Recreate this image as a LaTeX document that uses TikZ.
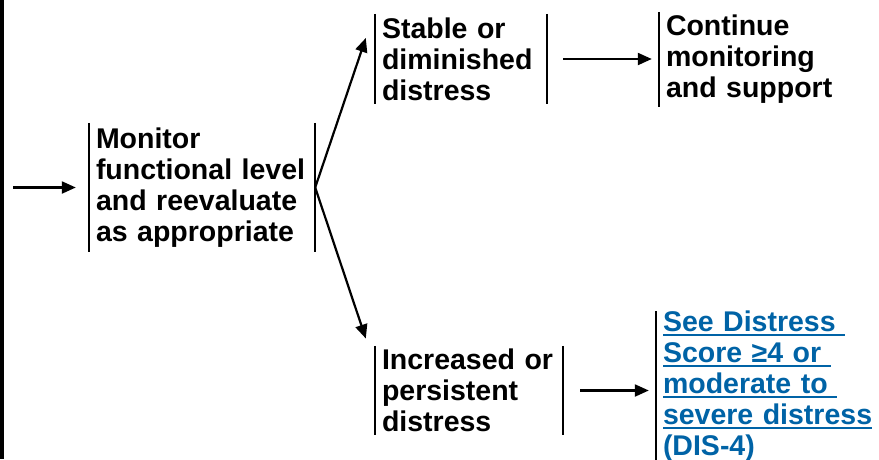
\documentclass[tikz,border=0pt]{standalone}
\usepackage{fontspec}
\setmainfont{Liberation Sans}
\usetikzlibrary{arrows.meta}
\definecolor{linkblue}{RGB}{0,99,166}
\newcommand\linkline[1]{\leavevmode\setbox0\hbox{#1}\rlap{\rule[-4pt]{\wd0}{1.6pt}}\box0}
\tikzset{
  stepbox/.style={align=left, inner xsep=7pt, inner ysep=0pt,
    font=\fontsize{28.5}{31}\selectfont\bfseries},
  barline/.style={line width=2.4pt},
  flowarrow/.style={line width=2.2pt, -{Triangle[length=14pt,width=12pt]}}
}

\begin{document}
\begin{tikzpicture}[x=1pt,y=1pt]
\useasboundingbox (0,0) rectangle (879,-459);
% left border
\draw[line width=3.5pt] (2,0) -- (2,-459);

\node[stepbox, text width=212pt, minimum height=129pt] (mon) at (202,-187.5)
  {Monitor\\functional level\\and reevaluate\\as appropriate};
\node[stepbox, text width=158pt, minimum height=90pt] (stab) at (461,-59)
  {Stable or\\diminished\\distress};
\node[stepbox, text width=200pt, minimum height=95pt] (cont) at (766,-59.5)
  {Continue\\monitoring\\and support};
\node[stepbox, text width=174pt, minimum height=89pt] (inc) at (469,-390.5)
  {Increased or\\persistent\\distress};
\node[stepbox, text width=206pt, minimum height=150pt, text=linkblue] (see) at (766,-386.5)
  {\linkline{See Distress\ }\\\linkline{Score ≥4 or\ }\\\linkline{moderate to\ }\\\linkline{severe distress}\\(DIS-4)};

% bars
\draw[barline] (mon.north west) -- (mon.south west);
\draw[barline] (mon.north east) -- (mon.south east);
\draw[barline] (stab.north west) -- (stab.south west);
\draw[barline] (stab.north east) -- (stab.south east);
\draw[barline] (cont.north west) -- (cont.south west);
\draw[barline] (inc.north west) -- (inc.south west);
\draw[barline] (inc.north east) -- (inc.south east);
\draw[barline] (see.north west) -- ([yshift=-4pt]see.south west);

% arrows
\coordinate (entry) at (13,-187.5);
\draw[flowarrow, shorten >=13pt] (entry) -- (mon.west);
\draw[flowarrow] (mon.east) -- ([xshift=-9pt,yshift=21pt]stab.west);
\draw[flowarrow] (mon.east) -- ([xshift=-9pt,yshift=52pt]inc.west);
\draw[flowarrow, shorten <=16pt, shorten >=7pt] (stab.east) -- (stab.east -| cont.west);
\draw[flowarrow, shorten <=17pt, shorten >=7pt] (inc.east) -- (inc.east -| see.west);
\end{tikzpicture}
\end{document}
